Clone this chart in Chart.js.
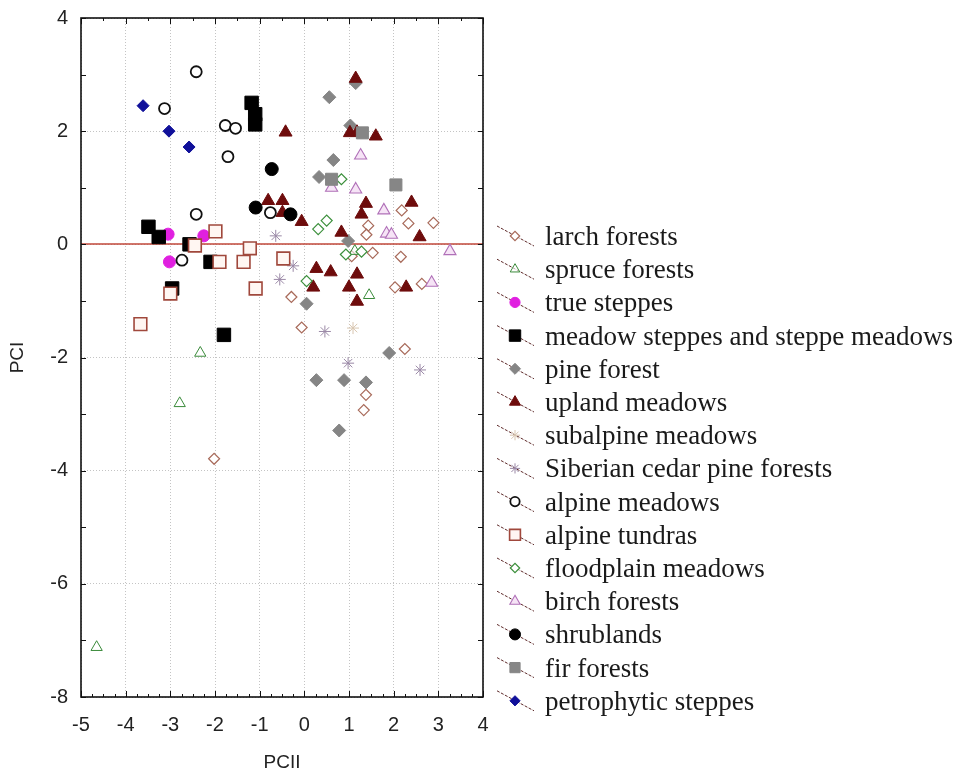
<!DOCTYPE html>
<html>
<head>
<meta charset="utf-8">
<script src="https://cdn.jsdelivr.net/npm/chart.js@4.4.1/dist/chart.umd.min.js"></script>
<style>
  html, body { margin: 0; padding: 0; background: #fff; }
  #wrap { width: 960px; height: 774px; }
</style>
</head>
<body>
<div id="wrap"><canvas id="pca" width="960" height="774"></canvas></div>
<script>
'use strict';

// tick labels on both axes
const xTicks = [-5, -4, -3, -2, -1, 0, 1, 2, 3, 4];
const yTicks = [-8, -6, -4, -2, 0, 2, 4];

// [PCII, PCI] scores for each vegetation type
const larchForests = [[1.43, 0.33], [1.39, 0.17], [2.18, 0.6], [2.33, 0.37], [2.89, 0.38], [1.06, -0.21],
    [1.53, -0.15], [2.16, -0.22], [2.03, -0.76], [2.63, -0.7], [-0.29, -0.93], [-0.06, -1.47],
    [2.25, -1.85], [1.38, -2.66], [1.33, -2.93], [-2.02, -3.79]];
const spruceForests = [[-2.33, -1.92], [-2.79, -2.81], [-4.65, -7.12], [1.45, -0.9], [1.13, -0.12]];
const trueSteppes = [[-3.05, 0.18], [-2.25, 0.15], [-3.02, -0.31]];
const meadowSteppes = [[-3.49, 0.31], [-3.26, 0.13], [-1.18, 2.5], [-1.1, 2.3], [-1.1, 2.12], [-2.57, 0.0],
    [-2.1, -0.31], [-2.96, -0.78], [-1.8, -1.6]];
const pineForest = [[0.56, 2.6], [1.15, 2.85], [1.03, 2.1], [0.65, 1.49], [0.33, 1.19], [0.98, 0.06],
    [0.05, -1.05], [1.9, -1.92], [0.27, -2.4], [0.89, -2.4], [1.38, -2.44], [0.78, -3.29]];
const uplandMeadows = [[-0.42, 1.98], [1.15, 2.93], [1.02, 1.97], [1.18, 1.98], [1.6, 1.91], [-0.81, 0.77],
    [-0.49, 0.77], [-0.49, 0.56], [-0.06, 0.4], [0.83, 0.21], [1.38, 0.72], [1.28, 0.53], [2.4, 0.74],
    [2.58, 0.13], [0.27, -0.43], [0.59, -0.49], [1.18, -0.53], [0.2, -0.76], [1.0, -0.76], [2.28, -0.76],
    [1.18, -1.01]];
const subalpineMeadows = [[1.09, -1.48]];
const cedarPineForests = [[-0.64, 0.15], [-0.55, -0.62], [-0.25, -0.38], [0.46, -1.54], [0.98, -2.1], [2.59, -2.22]];
const alpineMeadows = [[-2.42, 3.05], [-3.13, 2.4], [-1.77, 2.1], [-1.54, 2.05], [-1.71, 1.55], [-2.42, 0.53],
    [-0.76, 0.56], [-2.74, -0.28]];
const alpineTundras = [[-1.99, 0.23], [-2.45, -0.02], [-1.22, -0.07], [-1.9, -0.31], [-1.36, -0.31],
    [-0.47, -0.25], [-3.0, -0.87], [-1.09, -0.78], [-3.67, -1.41]];
const floodplainMeadows = [[0.83, 1.15], [0.31, 0.27], [0.5, 0.42], [0.93, -0.18], [1.28, -0.13], [0.05, -0.65]];
const birchForests = [[1.26, 1.57], [0.61, 1.0], [1.15, 0.97], [1.78, 0.6], [1.84, 0.19], [1.95, 0.17],
    [3.26, -0.12], [2.85, -0.68]];
const shrublands = [[-0.73, 1.33], [-1.09, 0.65], [-0.31, 0.53]];
const firForests = [[0.61, 1.15], [1.3, 1.97], [2.05, 1.05]];
const petrophyticSteppes = [[-3.61, 2.45], [-3.03, 2.0], [-2.58, 1.72]];

const seriesNames = ['larch forests', 'spruce forests', 'true steppes', 'meadow steppes and steppe meadows',
    'pine forest', 'upland meadows', 'subalpine meadows', 'Siberian cedar pine forests', 'alpine meadows',
    'alpine tundras', 'floodplain meadows', 'birch forests', 'shrublands', 'fir forests', 'petrophytic steppes'];
const seriesData = [larchForests, spruceForests, trueSteppes, meadowSteppes, pineForest, uplandMeadows,
    subalpineMeadows, cedarPineForests, alpineMeadows, alpineTundras, floodplainMeadows, birchForests,
    shrublands, firForests, petrophyticSteppes];

// marker look for each series, same order as seriesNames
const seriesStyles = [
    { shape: 'rectRot', r: 5.5, fill: '#ffffff', stroke: '#a86a5a', w: 1.2 },
    { shape: 'triangle', r: 6.5, fill: 'rgba(255,255,255,0.6)', stroke: '#3a8a3a', w: 1 },
    { shape: 'circle', r: 6, fill: '#e020e0', stroke: '#e020e0', w: 1 },
    { shape: 'rect', r: 9.5, fill: '#000000', stroke: '#000000', w: 1 },
    { shape: 'rectRot', r: 6.5, fill: '#858585', stroke: '#858585', w: 1 },
    { shape: 'triangle', r: 7.5, fill: '#6e0c0c', stroke: '#6e0c0c', w: 1 },
    { shape: 'star', r: 6, fill: '#e0d2c0', stroke: '#d8c6b0', w: 1 },
    { shape: 'star', r: 6, fill: '#9a88a6', stroke: '#9a88a6', w: 1 },
    { shape: 'circle', r: 5.5, fill: '#ffffff', stroke: '#111111', w: 1.8 },
    { shape: 'rect', r: 9, fill: '#fff6f2', stroke: '#a0483c', w: 1.6 },
    { shape: 'rectRot', r: 5.5, fill: '#ffffff', stroke: '#3b8f3b', w: 1.2 },
    { shape: 'triangle', r: 7, fill: '#f6e4f6', stroke: '#b070b8', w: 1.1 },
    { shape: 'circle', r: 6.5, fill: '#000000', stroke: '#000000', w: 1 },
    { shape: 'rect', r: 8.5, fill: '#868686', stroke: '#868686', w: 1 },
    { shape: 'rectRot', r: 6, fill: '#10109a', stroke: '#10109a', w: 1 }
];

const tickFont = { family: '"Liberation Sans", Arial, sans-serif', size: 20 };
const titleFont = { family: '"Liberation Sans", Arial, sans-serif', size: 19 };

// zero line, frame and the small inward ticks
const framePlugin = {
    id: 'frame',
    beforeDatasetsDraw(chart) {
        const { ctx, chartArea: a, scales: { y } } = chart;
        const y0 = Math.round(y.getPixelForValue(0));
        ctx.save();
        ctx.strokeStyle = '#c0473a';
        ctx.lineWidth = 1.5;
        ctx.beginPath();
        ctx.moveTo(a.left, y0);
        ctx.lineTo(a.right, y0);
        ctx.stroke();
        ctx.restore();
    },
    afterDatasetsDraw(chart) {
        const { ctx, chartArea: a, scales: { x, y } } = chart;
        const line = (x1, y1, x2, y2) => {
            ctx.beginPath();
            ctx.moveTo(x1, y1);
            ctx.lineTo(x2, y2);
            ctx.stroke();
        };
        ctx.save();
        ctx.strokeStyle = '#111';
        ctx.lineWidth = 1;
        for (let k = 0; k <= (x.max - x.min) * 4; k++) {
            const v = x.min + k / 4;
            const px = Math.round(x.getPixelForValue(v)) + 0.5;
            const major = k % 4 === 0;
            const len = major ? 6 : 3;
            line(px, a.bottom, px, a.bottom - len);
            if (k % 2 === 0) line(px, a.top, px, a.top + len);
        }
        for (let v = y.min; v <= y.max; v++) {
            const py = Math.round(y.getPixelForValue(v)) + 0.5;
            line(a.left, py, a.left + 5, py);
            line(a.right, py, a.right - 5, py);
        }
        ctx.lineWidth = 1.6;
        ctx.strokeRect(a.left, a.top, a.right - a.left, a.bottom - a.top);
        ctx.restore();
    }
};

// legend on the right: slanted dashed line with the marker and a serif label
const sideLegend = {
    id: 'sideLegend',
    afterDraw(chart) {
        const { ctx, chartArea: a } = chart;
        const x0 = a.right + 14;
        const top = 238;
        const step = 33.2;
        chart.data.datasets.forEach((ds, i) => {
            const cy = top + i * step;
            ctx.save();
            ctx.strokeStyle = '#5e2a2a';
            ctx.lineWidth = 1;
            ctx.setLineDash([3, 1.5]);
            ctx.beginPath();
            ctx.moveTo(x0, cy - 12);
            ctx.lineTo(x0 + 37, cy + 8);
            ctx.stroke();
            ctx.setLineDash([]);
            ctx.fillStyle = ds.pointBackgroundColor;
            ctx.strokeStyle = ds.pointBorderColor;
            ctx.lineWidth = ds.pointBorderWidth;
            Chart.helpers.drawPoint(ctx, {
                pointStyle: ds.pointStyle,
                radius: ds.pointRadius * 0.85,
                borderWidth: ds.pointBorderWidth,
                rotation: 0
            }, x0 + 18, cy - 2);
            ctx.fillStyle = '#1a1a1a';
            ctx.font = '27px "Liberation Serif", "Times New Roman", serif';
            ctx.textAlign = 'left';
            ctx.textBaseline = 'middle';
            ctx.fillText(ds.label, x0 + 48, cy);
            ctx.restore();
        });
    }
};

const datasets = seriesNames.map((name, i) => {
    const st = seriesStyles[i];
    return {
        label: name,
        data: seriesData[i].map(([px, py]) => ({ x: px, y: py })),
        pointStyle: st.shape,
        pointRadius: st.r,
        pointBackgroundColor: st.fill,
        pointBorderColor: st.stroke,
        pointBorderWidth: st.w,
        showLine: false,
        order: -i
    };
});

new Chart(document.getElementById('pca'), {
    type: 'scatter',
    data: { datasets },
    options: {
        responsive: false,
        animation: false,
        devicePixelRatio: 1,
        events: [],
        layout: { padding: { top: 18, right: 477, left: 0, bottom: 0 } },
        plugins: {
            legend: { display: false },
            tooltip: { enabled: false }
        },
        scales: {
            x: {
                type: 'linear',
                min: xTicks[0],
                max: xTicks[xTicks.length - 1],
                afterBuildTicks: s => { s.ticks = xTicks.map(v => ({ value: v })); },
                afterFit: s => { s.height = 77; s.paddingLeft = 0; s.paddingRight = 0; },
                grid: { color: '#c4c4c4', lineWidth: 1, drawTicks: false },
                border: { display: false, dash: [1, 2] },
                ticks: { font: tickFont, color: '#222', padding: 16, maxRotation: 0 },
                title: { display: true, text: 'PCII', font: titleFont, color: '#222', padding: { top: 0, bottom: 0 } }
            },
            y: {
                type: 'linear',
                min: yTicks[0],
                max: yTicks[yTicks.length - 1],
                afterBuildTicks: s => { s.ticks = yTicks.map(v => ({ value: v })); },
                afterFit: s => { s.width = 81; s.paddingTop = 0; s.paddingBottom = 0; },
                grid: { color: '#c4c4c4', lineWidth: 1, drawTicks: false },
                border: { display: false, dash: [1, 2] },
                ticks: { font: tickFont, color: '#222', padding: 13 },
                title: { display: true, text: 'PCI', font: titleFont, color: '#222', padding: { top: 6, bottom: 0 } }
            }
        }
    },
    plugins: [framePlugin, sideLegend]
});
</script>
</body>
</html>
